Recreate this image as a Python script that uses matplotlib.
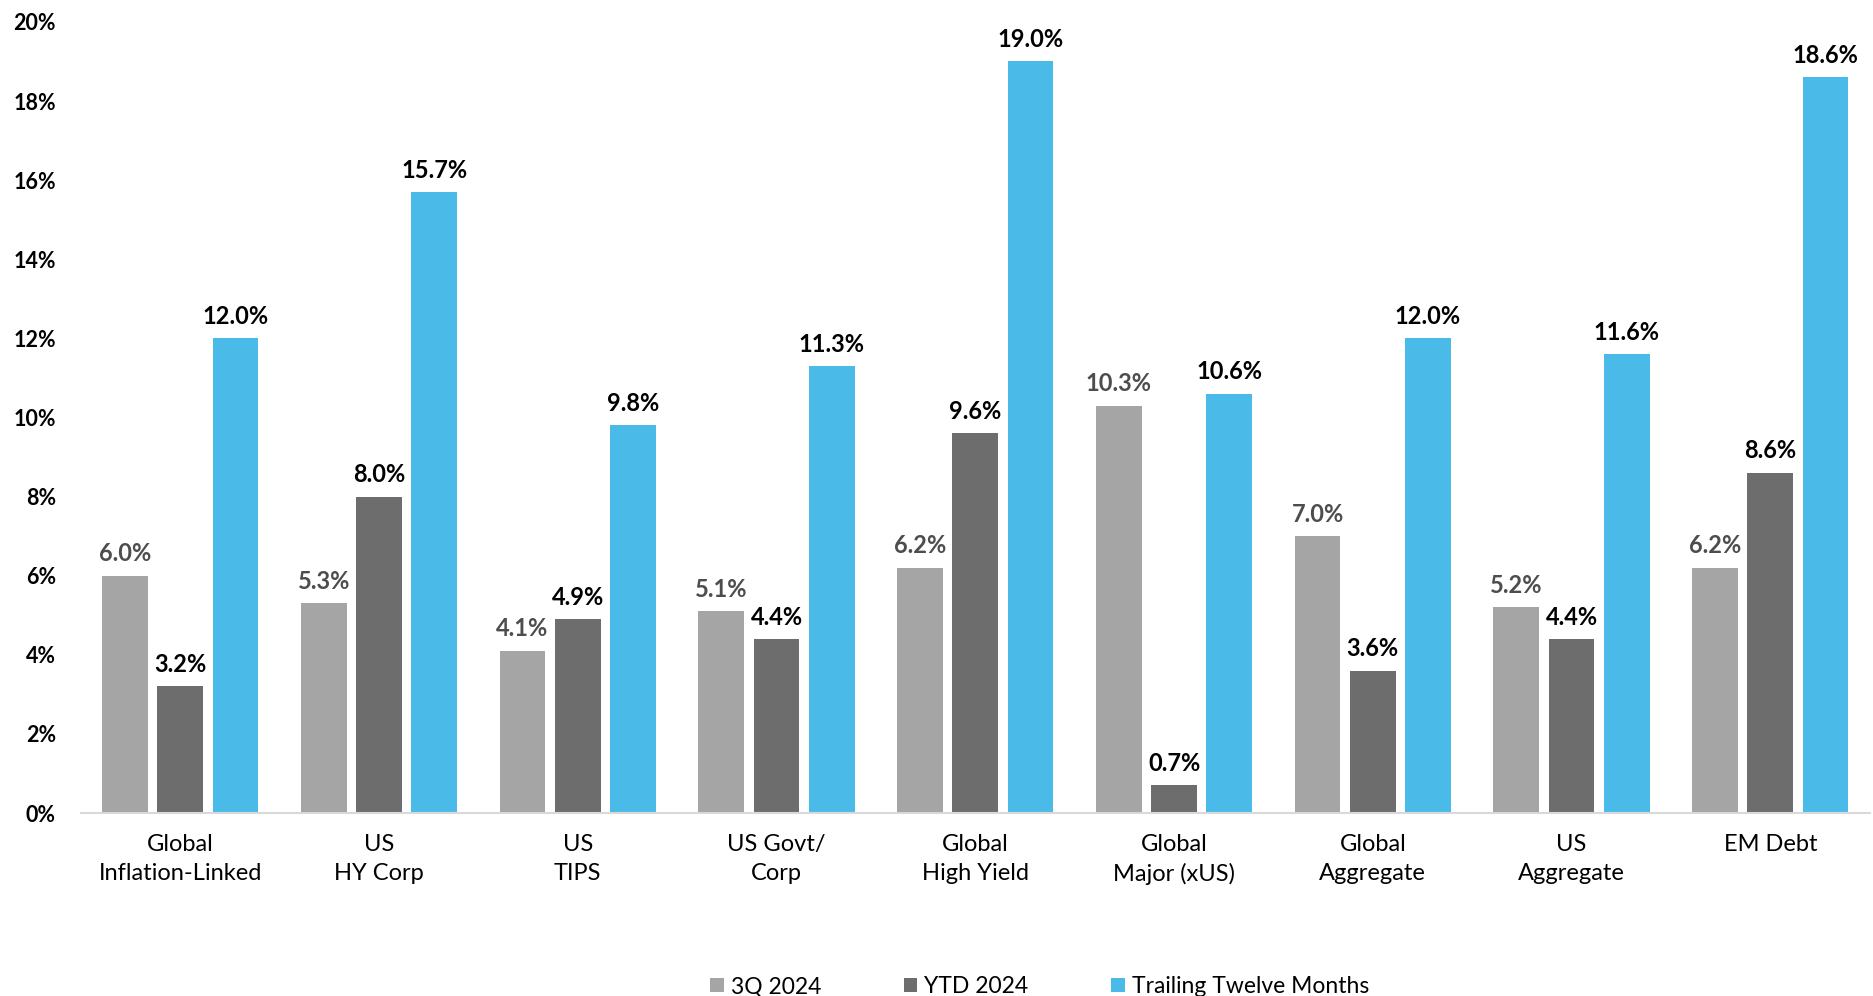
import numpy as np
import matplotlib.pyplot as plt
from matplotlib.ticker import FuncFormatter

# Fixed income returns by sector
categories = ["Global\nInflation-Linked", "US\nHY Corp", "US\nTIPS", "US Govt/\nCorp",
              "Global\nHigh Yield", "Global\nMajor (xUS)", "Global\nAggregate", "US\nAggregate", "EM Debt"]
q3_2024 = [6.0, 5.3, 4.1, 5.1, 6.2, 10.3, 7.0, 5.2, 6.2]
ytd_2024 = [3.2, 8.0, 4.9, 4.4, 9.6, 0.7, 3.6, 4.4, 8.6]
ttm = [12.0, 15.7, 9.8, 11.3, 19.0, 10.6, 12.0, 11.6, 18.6]

series_names = ["3Q 2024", "YTD 2024", "Trailing Twelve Months"]
colors = ["#A5A5A5", "#6C6D6C", "#4ABBE8"]
label_colors = ["#4D4D4D", "#000000", "#000000"]

plt.rcParams['font.family'] = ['Lato', 'DejaVu Sans']

fig = plt.figure(figsize=(18.73, 9.96), dpi=100)
ax = fig.add_axes([0.0432, 0.1837, 0.955, 0.7943])

x = np.arange(len(categories))
width = 0.23
step = 0.278

for i, (vals, name) in enumerate(zip([q3_2024, ytd_2024, ttm], series_names)):
    pos = x + (i - 1) * step
    ax.bar(pos, vals, width, color=colors[i], label=name)
    for xp, v in zip(pos, vals):
        ax.annotate(f"{v:.1f}%", (xp, v), xytext=(0, 7.5), textcoords="offset points",
                    ha="center", va="bottom", fontsize=17, fontweight="bold",
                    color=label_colors[i])

ax.set_xlim(-0.5, len(categories) - 0.5)
ax.set_ylim(0, 20)
ax.set_yticks(np.arange(0, 21, 2))
ax.yaxis.set_major_formatter(FuncFormatter(lambda v, p: f"{v:.0f}%"))
ax.set_xticks(x)
ax.set_xticklabels(categories, fontsize=17, linespacing=1.45)

for side in ["top", "right", "left"]:
    ax.spines[side].set_visible(False)
ax.spines["bottom"].set_color("#D9D9D9")
ax.spines["bottom"].set_linewidth(1.5)
ax.tick_params(axis="x", length=0, pad=15)
ax.tick_params(axis="y", length=0, pad=18, labelsize=15.5)
for t in ax.get_yticklabels():
    t.set_fontweight("bold")

fig.legend(loc="lower center", bbox_to_anchor=(0.555, -0.022), ncol=3, frameon=False,
           prop={"size": 16.5}, handlelength=0.6, handleheight=0.6,
           handletextpad=0.3, columnspacing=3.6)

fig.savefig("out.png", dpi=100)
